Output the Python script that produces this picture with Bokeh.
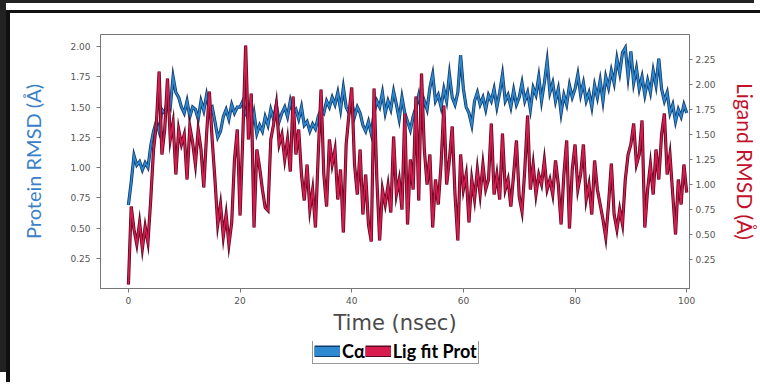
import numpy as np
from bokeh.plotting import figure
from bokeh.layouts import column
from bokeh.models import (Range1d, LinearAxis, FixedTicker, NumeralTickFormatter,
                          Legend, LegendItem, ColumnDataSource)
from bokeh.embed import file_html
from bokeh.resources import INLINE

# ---- data ----
time_ns = list(np.arange(0, 100.5, 0.5))

ca_rmsd = [
    0.69, 0.88, 1.10, 1.02, 1.05, 0.98, 1.04, 1.00, 1.18, 1.30,
    1.38, 1.30, 1.48, 1.45, 1.55, 1.50, 1.75, 1.62, 1.58, 1.50,
    1.45, 1.55, 1.42, 1.50, 1.48, 1.40, 1.55, 1.47, 1.60, 1.48,
    1.50, 1.38, 1.25, 1.30, 1.42, 1.48, 1.40, 1.52, 1.45, 1.50,
    1.50, 1.55, 1.45, 1.40, 1.32, 1.45, 1.28, 1.35, 1.30, 1.42,
    1.35, 1.48, 1.40, 1.52, 1.38, 1.45, 1.50, 1.42, 1.55, 1.45,
    1.48, 1.40, 1.50, 1.35, 1.38, 1.30, 1.36, 1.32, 1.42, 1.48,
    1.45, 1.55, 1.50, 1.58, 1.52, 1.62, 1.48, 1.66, 1.50, 1.45,
    1.55, 1.42, 1.50, 1.45, 1.35, 1.30, 1.38, 1.28, 1.45, 1.55,
    1.50, 1.62, 1.45, 1.55, 1.48, 1.63, 1.52, 1.40, 1.58, 1.45,
    1.38, 1.31, 1.42, 1.50, 1.60, 1.45, 1.55, 1.48, 1.66, 1.77,
    1.55, 1.60, 1.50, 1.65, 1.55, 1.77, 1.58, 1.52, 1.62, 1.93,
    1.65, 1.50, 1.45, 1.35, 1.55, 1.62, 1.52, 1.58, 1.48, 1.60,
    1.55, 1.65, 1.50, 1.62, 1.77, 1.55, 1.60, 1.50, 1.64, 1.52,
    1.58, 1.70, 1.55, 1.62, 1.48, 1.66, 1.60, 1.75, 1.55, 1.70,
    1.88, 1.62, 1.70, 1.55, 1.65, 1.45, 1.60, 1.52, 1.68, 1.58,
    1.65, 1.77, 1.60, 1.70, 1.55, 1.62, 1.50, 1.68, 1.58, 1.72,
    1.55, 1.75, 1.66, 1.80, 1.70, 1.90, 1.78, 1.95, 1.99, 1.75,
    1.96, 1.70, 1.82, 1.65, 1.75, 1.60, 1.72, 1.62, 1.80, 1.68,
    1.90, 1.65, 1.55, 1.62, 1.45, 1.52, 1.38, 1.48, 1.42, 1.52,
    1.45,
]

lig_rmsd = [
    0.00, 0.78, 0.55, 0.40, 0.62, 0.36, 0.58, 0.42, 0.85, 1.35,
    1.60, 2.13, 1.30, 1.55, 2.06, 1.45, 1.62, 1.10, 1.55, 1.40,
    1.50, 1.05, 1.58, 1.42, 1.20, 1.55, 1.35, 0.97, 1.50, 1.93,
    1.45, 1.05, 0.60, 0.80, 0.48, 0.70, 0.40, 0.62, 1.25, 1.55,
    0.69, 1.50, 2.39, 1.45, 1.91, 0.57, 1.35, 1.17, 0.95, 0.77,
    0.74, 1.45, 1.60, 1.80, 1.40, 1.50, 1.25, 1.45, 1.13, 1.88,
    1.30, 1.55, 1.10, 0.84, 1.20, 0.75, 0.95, 0.57, 1.30, 1.95,
    1.10, 0.78, 1.45, 1.20, 1.35, 0.85, 1.15, 0.52, 1.40, 1.70,
    1.97, 1.20, 0.90, 1.35, 0.70, 1.10, 0.60, 0.43, 1.96, 1.05,
    0.44, 0.95, 0.80, 0.99, 0.72, 1.48, 0.90, 1.05, 0.75, 1.71,
    0.60, 1.25, 0.95, 1.88, 0.84, 2.11, 1.35, 1.00, 1.30, 0.57,
    1.05, 0.80, 1.20, 1.79, 1.00, 1.25, 1.58, 0.90, 0.44, 1.30,
    0.95, 1.10, 0.62, 1.05, 0.85, 1.15, 0.90, 1.20, 0.95, 1.05,
    1.61, 0.90, 1.10, 0.85, 1.51, 0.95, 1.05, 0.78, 1.10, 1.44,
    0.88, 0.73, 1.15, 1.69, 0.95, 1.20, 0.90, 1.10, 1.00, 1.24,
    0.95, 1.05, 0.90, 1.24, 1.00, 0.60, 1.10, 1.44, 0.56, 1.15,
    1.40, 0.95, 1.10, 1.40, 0.85, 1.00, 0.70, 1.24, 0.95, 0.80,
    0.65, 0.47, 0.80, 1.21, 0.70, 0.55, 0.75, 0.60, 1.05, 1.30,
    1.40, 1.61, 1.20, 1.30, 1.64, 0.57, 0.95, 1.20, 0.90, 1.35,
    1.05, 1.50, 1.71, 1.10, 1.30, 0.90, 0.50, 1.05, 0.80, 1.20,
    0.92,
]

x_ticks = [0, 20, 40, 60, 80, 100]
left_ticks = [0.25, 0.50, 0.75, 1.00, 1.25, 1.50, 1.75, 2.00]
right_ticks = [0.25, 0.50, 0.75, 1.00, 1.25, 1.50, 1.75, 2.00, 2.25]

series_names = ["C\u03b1", "Lig fit Prot"]

BLUE, BLUE_EDGE = "#2e8ad0", "#123a6b"
RED, RED_EDGE = "#d81c50", "#5a0820"
TICK_GRAY = "#555555"

src = ColumnDataSource(dict(t=time_ns, ca=ca_rmsd, lig=lig_rmsd))

# main chart: 750 px wide; the page frame adds 10 px on the left and 13 px on top
p = figure(width=750, height=328, output_backend="svg", toolbar_location=None,
           x_range=Range1d(-5, 100.5), y_range=Range1d(0, 2.1),
           min_border_left=90, min_border_right=70, min_border_top=21,
           min_border_bottom=53)
p.extra_y_ranges = {"lig": Range1d(-0.04, 2.5)}

p.background_fill_color = "white"
p.border_fill_color = "white"
p.outline_line_color = "#777777"
p.outline_line_width = 1
p.xgrid.visible = False
p.ygrid.visible = False

# Cα (left axis)
p.line("t", "ca", source=src, line_color=BLUE_EDGE, line_width=3.2, line_join="miter")
p.line("t", "ca", source=src, line_color=BLUE, line_width=1.6, line_join="miter")
# Ligand (right axis)
p.line("t", "lig", source=src, y_range_name="lig", line_color=RED_EDGE, line_width=3.2,
       line_join="miter")
p.line("t", "lig", source=src, y_range_name="lig", line_color=RED, line_width=1.6,
       line_join="miter")

# x axis
xa = p.xaxis[0]
xa.ticker = FixedTicker(ticks=x_ticks)
xa.axis_label = "Time (nsec)"
xa.axis_label_text_font = "DejaVu Sans"
xa.axis_label_text_font_size = "21px"
xa.axis_label_text_font_style = "normal"
xa.axis_label_text_color = "#4a4a4a"
xa.axis_label_standoff = 4
xa.major_label_text_font = "DejaVu Sans"
xa.major_label_text_font_size = "9px"
xa.major_label_text_color = TICK_GRAY
xa.major_label_standoff = 4
xa.major_tick_out = 4
xa.major_tick_in = 0
xa.minor_tick_out = 0
xa.minor_tick_in = 0
xa.axis_line_color = "#777777"
xa.major_tick_line_color = "#777777"

# left y axis
ya = p.yaxis[0]
ya.ticker = FixedTicker(ticks=left_ticks)
ya.formatter = NumeralTickFormatter(format="0.00")
ya.axis_label = "Protein RMSD (\u00c5)"
ya.axis_label_text_font = "Lato"
ya.axis_label_text_font_size = "20px"
ya.axis_label_text_font_style = "normal"
ya.axis_label_text_color = "#3a7fc8"
ya.axis_label_standoff = 22
ya.major_label_text_font = "DejaVu Sans"
ya.major_label_text_font_size = "9px"
ya.major_label_text_color = TICK_GRAY
ya.major_label_standoff = 6
ya.major_tick_out = 4
ya.major_tick_in = 0
ya.minor_tick_out = 0
ya.minor_tick_in = 0
ya.axis_line_color = "#777777"
ya.major_tick_line_color = "#777777"

# right y axis
ra = LinearAxis(y_range_name="lig", ticker=FixedTicker(ticks=right_ticks),
                formatter=NumeralTickFormatter(format="0.00"))
ra.axis_label = "Ligand RMSD (\u00c5)"
ra.axis_label_text_font = "Lato"
ra.axis_label_text_font_size = "21px"
ra.axis_label_text_font_style = "normal"
ra.axis_label_text_color = "#c4102c"
ra.axis_label_standoff = 14
ra.major_label_text_font = "DejaVu Sans"
ra.major_label_text_font_size = "9px"
ra.major_label_text_color = TICK_GRAY
ra.major_label_standoff = 3
ra.major_tick_out = 3
ra.major_tick_in = 0
ra.minor_tick_out = 0
ra.minor_tick_in = 0
ra.axis_line_color = "#777777"
ra.major_tick_line_color = "#777777"
p.add_layout(ra, "right")

# ---- legend strip (its own full-width figure, placed under the chart) ----
# its y range lies far above the data, so the series lines stay out of view and
# only their legend swatches are drawn
lf = figure(width=750, height=28, output_backend="svg", toolbar_location=None,
            x_range=Range1d(0, 1), y_range=Range1d(10, 11),
            x_axis_location=None, y_axis_location=None, min_border=0)
lf.outline_line_color = None
lf.xgrid.visible = False
lf.ygrid.visible = False
lf.background_fill_color = "white"
lf.border_fill_color = "white"

sw_blue_edge = lf.line("t", "ca", source=src, line_color=BLUE_EDGE, line_width=12,
                       line_cap="butt")
sw_blue = lf.line("t", "ca", source=src, line_color=BLUE, line_width=9, line_cap="butt")
sw_red_edge = lf.line("t", "lig", source=src, line_color=RED_EDGE, line_width=12,
                      line_cap="butt")
sw_red = lf.line("t", "lig", source=src, line_color=RED, line_width=9, line_cap="butt")

legend = Legend(items=[LegendItem(label=series_names[0], renderers=[sw_blue_edge, sw_blue]),
                       LegendItem(label=series_names[1], renderers=[sw_red_edge, sw_red])],
                orientation="horizontal", location=(212, 5))
legend.label_text_font = "Lato"
legend.label_text_font_style = "bold"
legend.label_text_font_size = "18px"
legend.label_text_color = "black"
legend.label_height = 18
legend.label_width = 10
legend.glyph_width = 26
legend.glyph_height = 12
legend.label_standoff = 2
legend.spacing = 0
legend.padding = 1
legend.margin = 0
legend.border_line_color = "#333333"
legend.border_line_width = 1.2
legend.background_fill_color = "white"
legend.background_fill_alpha = 1
lf.add_layout(legend, "center")

lay = column(p, lf, spacing=0)
lay.styles = {"margin-left": "6px", "margin-top": "10px",
              "border-left": "4px solid #111111", "border-top": "3px solid #111111",
              "box-shadow": "0 -7px 0 0 #ffffff, -6px -10px 0 0 #222222",
              "background-color": "white", "min-height": "372px"}

open("out.html", "w").write(file_html(lay, INLINE))
